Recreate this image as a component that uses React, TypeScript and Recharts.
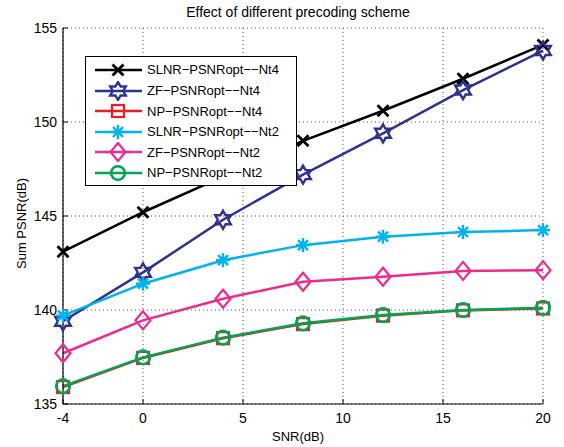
import { CartesianGrid, Legend, Line, LineChart, XAxis, YAxis } from "recharts";

const snr = [-4, 0, 4, 8, 12, 16, 20];
const slnrNt4 = [143.1, 145.2, 147.1, 149.0, 150.6, 152.3, 154.1];
const zfNt4 = [139.4, 142.0, 144.8, 147.2, 149.4, 151.7, 153.8];
const npNt4 = [135.9, 137.45, 138.5, 139.25, 139.7, 139.98, 140.08];
const slnrNt2 = [139.7, 141.4, 142.65, 143.45, 143.9, 144.15, 144.25];
const zfNt2 = [137.7, 139.45, 140.6, 141.5, 141.77, 142.08, 142.12];
const npNt2 = [135.95, 137.48, 138.53, 139.29, 139.73, 140.0, 140.12];

const xTicks = [-4, 0, 5, 10, 15, 20];
const yTicks = [135, 140, 145, 150, 155];

type MarkerKind = "cross" | "hexagram" | "square" | "asterisk" | "diamond" | "circle";

const SERIES: { key: string; name: string; color: string; marker: MarkerKind; values: number[] }[] = [
  { key: "slnrNt4", name: "SLNR\u2212PSNRopt\u2212\u2212Nt4", color: "#000000", marker: "cross", values: slnrNt4 },
  { key: "zfNt4", name: "ZF\u2212PSNRopt\u2212\u2212Nt4", color: "#2e3192", marker: "hexagram", values: zfNt4 },
  { key: "npNt4", name: "NP\u2212PSNRopt\u2212\u2212Nt4", color: "#ed1c24", marker: "square", values: npNt4 },
  { key: "slnrNt2", name: "SLNR\u2212PSNRopt\u2212\u2212Nt2", color: "#00b2ee", marker: "asterisk", values: slnrNt2 },
  { key: "zfNt2", name: "ZF\u2212PSNRopt\u2212\u2212Nt2", color: "#ec2a8f", marker: "diamond", values: zfNt2 },
  { key: "npNt2", name: "NP\u2212PSNRopt\u2212\u2212Nt2", color: "#00a651", marker: "circle", values: npNt2 },
];

const data = snr.map((x, i) => {
  const row: Record<string, number> = { snr: x };
  SERIES.forEach((s) => {
    row[s.key] = s.values[i];
  });
  return row;
});

const FONT = '"Liberation Sans", Arial, sans-serif';

function Marker({ kind, cx, cy, color }: { kind: MarkerKind; cx: number; cy: number; color: string }) {
  const common = { stroke: color, strokeWidth: 2.2, fill: "none" };
  switch (kind) {
    case "cross":
      return (
        <g {...common}>
          <line x1={cx - 5.5} y1={cy - 5.5} x2={cx + 5.5} y2={cy + 5.5} strokeWidth={2.8} />
          <line x1={cx - 5.5} y1={cy + 5.5} x2={cx + 5.5} y2={cy - 5.5} strokeWidth={2.8} />
        </g>
      );
    case "hexagram": {
      const pts: string[] = [];
      for (let k = 0; k < 12; k++) {
        const a = ((-90 + k * 30) * Math.PI) / 180;
        const r = k % 2 === 0 ? 9 : 5.2;
        pts.push(`${cx + r * Math.cos(a)},${cy + r * Math.sin(a)}`);
      }
      return <polygon points={pts.join(" ")} {...common} strokeWidth={2.4} />;
    }
    case "square":
      return <rect x={cx - 6} y={cy - 6} width={12} height={12} {...common} />;
    case "asterisk":
      return (
        <g {...common} strokeWidth={2.4}>
          <line x1={cx - 7} y1={cy} x2={cx + 7} y2={cy} />
          <line x1={cx} y1={cy - 7} x2={cx} y2={cy + 7} />
          <line x1={cx - 5} y1={cy - 5} x2={cx + 5} y2={cy + 5} />
          <line x1={cx - 5} y1={cy + 5} x2={cx + 5} y2={cy - 5} />
        </g>
      );
    case "diamond":
      return (
        <polygon
          points={`${cx},${cy - 9} ${cx + 7.5},${cy} ${cx},${cy + 9} ${cx - 7.5},${cy}`}
          {...common}
        />
      );
    default:
      return <circle cx={cx} cy={cy} r={6.8} {...common} strokeWidth={2.6} />;
  }
}

function LegendBox() {
  return (
    <div
      style={{
        background: "#fff",
        border: "1px solid #000",
        width: 212,
        height: 130,
        boxSizing: "border-box",
        paddingTop: 2.7,
        fontFamily: FONT,
      }}
    >
      {SERIES.map((s) => (
        <div key={s.key} style={{ display: "flex", alignItems: "center", height: 20.6 }}>
          <svg width={61} height={20} style={{ display: "block" }}>
            <line x1={9} x2={56} y1={10} y2={10} stroke={s.color} strokeWidth={2.5} />
            <Marker kind={s.marker} cx={32} cy={10} color={s.color} />
          </svg>
          <span style={{ fontSize: 13, color: "#000", whiteSpace: "nowrap" }}>{s.name}</span>
        </div>
      ))}
    </div>
  );
}

export default function App() {
  return (
    <div style={{ position: "absolute", left: 0, top: 0, width: 564, height: 447, background: "#fff", fontFamily: FONT }}>
      <LineChart width={564} height={447} data={data} margin={{ top: 28, right: 21, left: 0, bottom: 0 }}>
        <CartesianGrid stroke="#555" strokeDasharray="1 3" horizontalValues={yTicks} verticalValues={xTicks} />
        <XAxis
          dataKey="snr"
          type="number"
          domain={[-4, 20]}
          ticks={xTicks}
          height={43}
          axisLine={{ stroke: "#000", strokeWidth: 1.2 }}
          tickLine={{ stroke: "#000" }}
          tickSize={-5}
          tickMargin={14}
          tick={{ fill: "#000", fontSize: 14, fontFamily: FONT }}
          label={{ value: "SNR(dB)", position: "center", dx: -5, dy: 11, fill: "#000", fontSize: 13, fontFamily: FONT }}
        />
        <XAxis
          xAxisId="top"
          orientation="top"
          type="number"
          domain={[-4, 20]}
          ticks={xTicks}
          height={0}
          axisLine={{ stroke: "#000", strokeWidth: 1.2 }}
          tickLine={{ stroke: "#000" }}
          tickSize={-5}
          tick={false}
        />
        <YAxis
          type="number"
          domain={[135, 155]}
          ticks={yTicks}
          width={63}
          axisLine={{ stroke: "#000", strokeWidth: 1.2 }}
          tickLine={{ stroke: "#000" }}
          tickSize={-5}
          tickMargin={11}
          tick={{ fill: "#000", fontSize: 14, fontFamily: FONT }}
          label={{ value: "Sum PSNR(dB)", angle: -90, position: "center", dx: -10.5, dy: 7.5, fill: "#000", fontSize: 13, fontFamily: FONT }}
        />
        <YAxis
          yAxisId="right"
          orientation="right"
          type="number"
          domain={[135, 155]}
          ticks={yTicks}
          width={0}
          axisLine={{ stroke: "#000", strokeWidth: 1.2 }}
          tickLine={{ stroke: "#000" }}
          tickSize={-5}
          tick={false}
        />
        {SERIES.map((s) => (
          <Line
            key={s.key}
            dataKey={s.key}
            name={s.name}
            stroke={s.color}
            strokeWidth={2.5}
            isAnimationActive={false}
            dot={(p: any) => (
              <g key={`${s.key}-${p.index}`}>
                <Marker kind={s.marker} cx={p.cx} cy={p.cy} color={s.color} />
              </g>
            )}
            activeDot={false}
          />
        ))}
        <Legend
          layout="vertical"
          align="center"
          verticalAlign="middle"
          content={() => <LegendBox />}
          wrapperStyle={{ position: "absolute", left: 85, top: 56, width: 212, height: 130 }}
        />
      </LineChart>
      <div
        style={{
          position: "absolute",
          top: 4,
          left: 0,
          width: 596,
          textAlign: "center",
          fontSize: 14,
          lineHeight: "16px",
          color: "#000",
        }}
      >
        Effect of different precoding scheme
      </div>
    </div>
  );
}
